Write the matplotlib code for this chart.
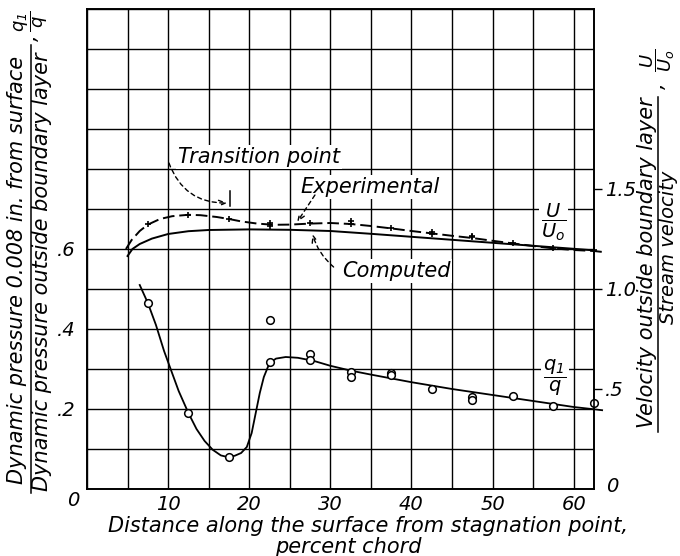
import matplotlib
matplotlib.use("Agg")
import matplotlib.pyplot as plt
from matplotlib.lines import Line2D
import numpy as np

plt.rcParams['font.family'] = ['DejaVu Sans']
plt.rcParams['font.style'] = 'italic'
plt.rcParams['mathtext.fontset'] = 'dejavusans'

# experimental U/U0 points (+), right scale
exp_x = [7.5, 12.5, 17.5, 22.5, 22.5, 27.5, 32.5, 32.5, 37.5, 42.5, 42.5, 47.5, 47.5, 52.5, 57.5, 62.5]
exp_u = [1.325, 1.37, 1.35, 1.315, 1.33, 1.33, 1.327, 1.34, 1.305, 1.275, 1.285, 1.258, 1.266, 1.228,
         1.203, 1.195]

# faired experimental curve (dashed)
expc_x = [4.8, 5.5, 6.5, 7.5, 9, 10.5, 12.5, 14, 16, 17.5, 19, 21, 23, 25, 27.5, 30, 32.5, 35,
          37.5, 40, 42.5, 45, 47.5, 50, 52.5, 55, 57.5, 60, 62.5, 63.6]
expc_u = [1.2, 1.245, 1.29, 1.322, 1.35, 1.364, 1.371, 1.369, 1.36, 1.35, 1.338, 1.327, 1.321, 1.322,
          1.327, 1.33, 1.325, 1.315, 1.303, 1.29, 1.278, 1.266, 1.255, 1.241, 1.228, 1.215, 1.203,
          1.195, 1.19, 1.185]

# computed U/U0 (solid)
comp_x = [5.0, 5.6, 6.5, 8, 10, 12.5, 15, 20, 25, 30, 35, 40, 45, 50, 55, 60, 62.5]
comp_u = [1.165, 1.2, 1.225, 1.252, 1.275, 1.289, 1.295, 1.298, 1.296, 1.29, 1.276, 1.261, 1.246,
          1.231, 1.216, 1.201, 1.193]

# q1/q measured (circles), left scale
q_x = [7.5, 12.5, 17.5, 22.5, 22.5, 27.5, 27.5, 32.5, 32.5, 37.5, 37.5, 42.5, 47.5, 47.5, 52.5, 57.5, 62.5]
q_v = [0.464, 0.19, 0.081, 0.4225, 0.318, 0.3375, 0.3225, 0.293, 0.279, 0.291, 0.284, 0.249, 0.231,
       0.222, 0.232, 0.2075, 0.214]

# faired q1/q curve
qc_x = [6.5, 7.5, 8.5, 9.5, 10.2, 11.3, 12.5, 13.5, 14.5, 15.5, 16.5, 17.3, 18.2, 19.0, 19.7, 20.3,
        20.8, 21.3, 21.8, 22.5, 23.3, 24.5, 26, 28, 30, 32.5, 35, 40, 45, 50, 55, 60, 63.5]
qc_v = [0.51, 0.465, 0.41, 0.345, 0.306, 0.245, 0.19, 0.15, 0.12, 0.098, 0.084, 0.08, 0.083, 0.09,
        0.105, 0.14, 0.19, 0.24, 0.28, 0.315, 0.326, 0.33, 0.328, 0.32, 0.308, 0.296, 0.286, 0.267,
        0.25, 0.235, 0.22, 0.205, 0.197]

x_ticks = [0, 5, 10, 15, 20, 25, 30, 35, 40, 45, 50, 55, 60]
x_labels = ['', '', '10', '', '20', '', '30', '', '40', '', '50', '', '60']
yl_ticks = [0, 0.1, 0.2, 0.3, 0.4, 0.5, 0.6, 0.7, 0.8, 0.9, 1.0, 1.1, 1.2]
yl_labels = ['', '', '.2', '', '.4', '', '.6', '', '', '', '', '', '']
yr_ticks = [0.5, 1.0, 1.5]
yr_labels = ['.5', '1.0', '1.5']

W, H = 680, 556
fs = 15
tfs = 14

fig = plt.figure(figsize=(6.8, 5.56), dpi=100)
ax = fig.add_axes([87 / W, 1 - 489 / H, (594 - 87) / W, (489 - 9) / H])
ax.set_xlim(0, 62.5)
ax.set_ylim(0, 1.2)
ax.set_xticks(x_ticks)
ax.set_xticklabels(x_labels, fontsize=tfs)
ax.set_yticks(yl_ticks)
ax.set_yticklabels(yl_labels, fontsize=tfs)
ax.tick_params(axis='x', length=0, pad=4)
ax.tick_params(axis='y', length=0, pad=8)
ax.grid(True, color='black', lw=1.0)
for s in ax.spines.values():
    s.set_linewidth(1.2)

ax2 = ax.twinx()
ax2.set_ylim(0, 2.4)
ax2.set_yticks(yr_ticks)
ax2.set_yticklabels(yr_labels, fontsize=tfs)
ax2.tick_params(axis='y', length=6, width=1.0, pad=2)
for s in ax2.spines.values():
    s.set_linewidth(1.2)

# q1/q
ax.plot(qc_x, qc_v, color='black', lw=1.3, clip_on=False)
ax.plot(q_x, q_v, 'o', ms=5.5, mfc='white', mec='black', mew=1.1, clip_on=False, zorder=4)

# U/U0
ax2.plot(expc_x, expc_u, color='black', lw=1.4, ls=(0, (6, 2.5)), clip_on=False)
ax2.plot(comp_x, comp_u, color='black', lw=1.4)
ax2.plot(exp_x, exp_u, '+', ms=5, mec='black', mew=1.2, clip_on=False)

# transition marker
ax2.plot([17.6, 17.6], [1.415, 1.49], color='black', lw=1.1)

lead = dict(arrowstyle='->,head_length=0.5,head_width=0.2', color='black', lw=1.0,
            ls=(0, (3, 2.5)), shrinkA=0, shrinkB=0)
white = dict(facecolor='white', edgecolor='none', pad=1.5)

ax2.text(11.2, 1.66, 'Transition point', fontsize=fs, ha='left', va='center', bbox=white)
ax2.annotate('', xy=(17.3, 1.43), xytext=(10.1, 1.63),
             arrowprops=dict(lead, connectionstyle='arc3,rad=0.35'))

ax2.text(26.3, 1.51, 'Experimental', fontsize=fs, ha='left', va='center', bbox=white)
ax2.annotate('', xy=(25.9, 1.335), xytext=(28.1, 1.47), arrowprops=dict(lead))

ax2.text(31.4, 1.09, 'Computed', fontsize=fs, ha='left', va='center', bbox=white)
ax2.annotate('', xy=(27.8, 1.275), xytext=(30.4, 1.11),
             arrowprops=dict(lead, connectionstyle='arc3,rad=-0.15'))

ax2.text(57.5, 1.335, r'$\dfrac{U}{U_o}$', fontsize=14, ha='center', va='center', bbox=white)
ax.text(57.7, 0.2775, r'$\dfrac{q_1}{q}$', fontsize=14, ha='center', va='center', bbox=white)

# corner zeros
fig.text(73 / W, 1 - 501 / H, '0', fontsize=tfs, ha='center', va='center')
fig.text(612 / W, 1 - 487 / H, '0', fontsize=tfs, ha='center', va='center')

# x title
fig.text(368 / W, 1 - 526 / H, 'Distance along the surface from stagnation point,', fontsize=fs,
         ha='center', va='center')
fig.text(348 / W, 1 - 547 / H, 'percent chord', fontsize=fs, ha='center', va='center')

# left title (fraction)
fig.text(17 / W, 1 - 270 / H, 'Dynamic pressure 0.008 in. from surface', fontsize=fs,
         rotation=90, ha='center', va='center')
fig.text(42 / W, 1 - 272 / H, 'Dynamic pressure outside boundary layer', fontsize=fs,
         rotation=90, ha='center', va='center')
fig.add_artist(Line2D([31 / W, 31 / W], [1 - 493 / H, 1 - 45 / H], color='black', lw=1.1))
fig.text(31 / W, 1 - 38 / H, ',', fontsize=fs, rotation=90, ha='center', va='center')
fig.text(31 / W, 1 - 21 / H, r'$\dfrac{q_1}{q}$', fontsize=13, rotation=90, ha='center', va='center')

# right title (fraction)
fig.text(647 / W, 1 - 263 / H, 'Velocity outside boundary layer', fontsize=fs,
         rotation=90, ha='center', va='center')
fig.text(668 / W, 1 - 247 / H, 'Stream velocity', fontsize=14, rotation=90, ha='center', va='center')
fig.add_artist(Line2D([658 / W, 658 / W], [1 - 432 / H, 1 - 97 / H], color='black', lw=1.1))
fig.text(658 / W, 1 - 86 / H, ',', fontsize=fs, rotation=90, ha='center', va='center')
fig.text(658 / W, 1 - 60 / H, r'$\dfrac{U}{U_o}$', fontsize=13, rotation=90, ha='center', va='center')

fig.savefig('out.png', dpi=100)
